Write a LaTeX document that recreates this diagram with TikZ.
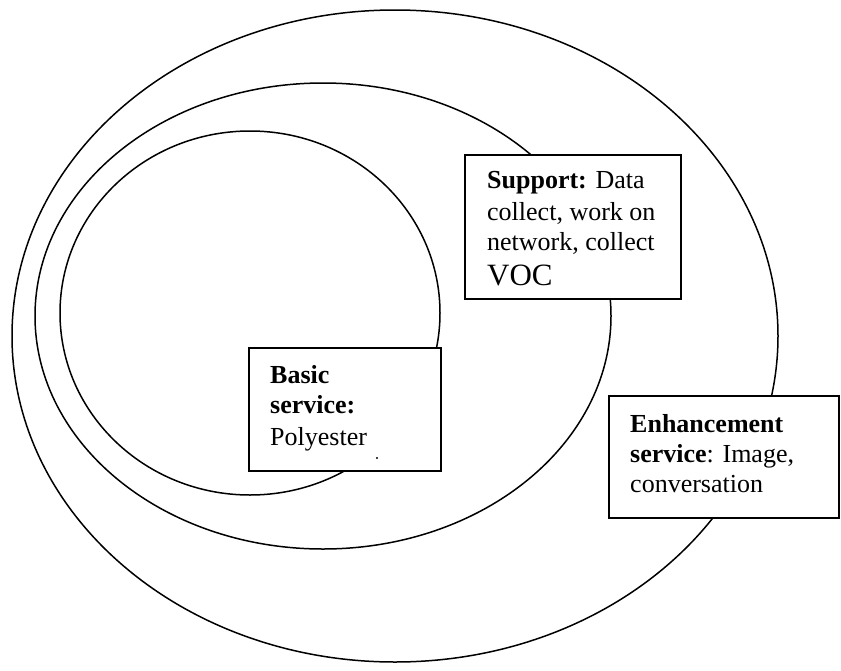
\documentclass[tikz,border=0pt]{standalone}
\usepackage{fontspec}
\setmainfont{Liberation Serif}
\begin{document}
\begin{tikzpicture}[x=1pt,y=-1pt,
  ring/.style={line width=1.5pt},
  box/.style={draw, line width=2pt, fill=white, inner sep=0pt, anchor=north west},
  txt/.style={anchor=base west, inner sep=0pt, font=\fontsize{26}{30}\selectfont},
  bigtxt/.style={anchor=base west, inner sep=0pt, font=\fontsize{31}{34}\selectfont}]
\useasboundingbox (0,0) rectangle (841,670);
% three nested service layers
\draw[ring] (395,336) ellipse [x radius=383pt, y radius=326pt];
\draw[ring] (323,316) ellipse [x radius=288pt, y radius=233pt];
\draw[ring] (250,313) ellipse [x radius=190pt, y radius=182pt];
% label boxes
\node[box, minimum width=216pt, minimum height=144pt] (support) at (464,154) {};
\node[box, minimum width=192pt, minimum height=123pt] (basic) at (248,347) {};
\node[box, minimum width=230pt, minimum height=122pt] (enh) at (608,395) {};
% support layer text
\node[txt] (s1) at (487,188) {\textbf{Support:} Data};
\node[txt] (s2) at (487,220) {collect, work on};
\node[txt] (s3) at (487,250) {network, collect};
\node[bigtxt] (s4) at (487,285) {VOC};
% basic service text
\node[txt] (b1) at (270,383) {\textbf{Basic}};
\node[txt] (b2) at (270,413) {\textbf{service:}};
\node[txt] (b3) at (270,445) {Polyester};
\fill (377,458) circle [radius=1.2pt];
% enhancement service text
\node[txt] (e1) at (630,432) {\textbf{Enhancement}};
\node[txt] (e2) at (630,462) {\textbf{service}: Image,};
\node[txt] (e3) at (630,492) {conversation};
\end{tikzpicture}
\end{document}
